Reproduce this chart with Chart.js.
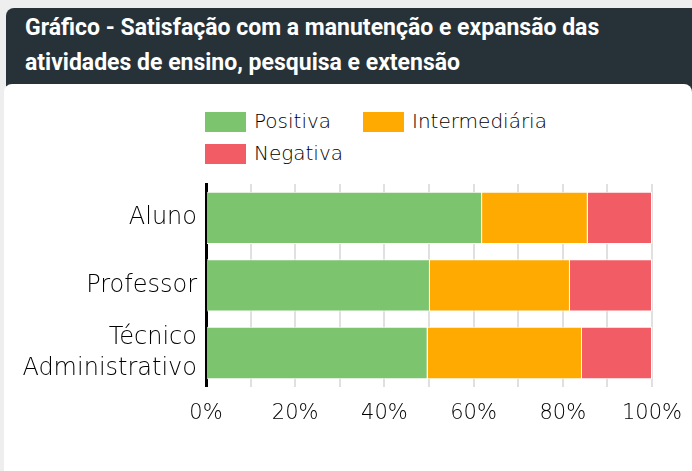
<!DOCTYPE html>
<html>
<head>
<meta charset="utf-8">
<script src="https://cdn.jsdelivr.net/npm/chart.js@4/dist/chart.umd.min.js"></script>
<style>
  html, body { margin:0; padding:0; width:692px; height:471px; overflow:hidden; background:#eeeeee; }
  #header { position:absolute; left:6px; top:8px; width:700px; height:90px; background:#263238; border-radius:8px; }
  #title { position:absolute; left:25px; top:10px; color:#fff; font-family:Roboto, sans-serif; font-weight:700; font-size:23px; line-height:35px; white-space:nowrap; }
  #card { position:absolute; left:4px; top:84px; width:688px; height:420px; background:#fff; border-radius:8px; }
  #legend { position:absolute; left:205px; top:112px; font-family:"DejaVu Sans", sans-serif; font-weight:300; font-size:20px; color:#000; }
  .li { position:absolute; white-space:nowrap; height:20px; }
  .li .sw { position:absolute; left:0; top:0; width:41px; height:20px; }
  .li .tx { position:absolute; left:49px; top:-3px; line-height:24px; }
  #c { position:absolute; left:0; top:0; }
</style>
</head>
<body>
<div id="header"></div>
<div id="title">Gráfico - Satisfação com a manutenção e expansão das<br>atividades de ensino, pesquisa e extensão</div>
<div id="card"></div>
<div id="legend"></div>
<canvas id="c" width="692" height="471"></canvas>
<script>
const categories = ['Aluno', 'Professor', ['Técnico', 'Administrativo']];
const seriesNames = ['Positiva', 'Intermediária', 'Negativa'];
const positiva = [61.9, 50.2, 49.7];
const intermediaria = [23.7, 31.4, 34.6];
const negativa = [14.4, 18.4, 15.7];
const seriesColors = ['#7cc46e', '#ffaa00', '#f25c64'];
const xTickValues = [0, 20, 40, 60, 80, 100];

const FONT = '"DejaVu Sans", sans-serif';

const chart = new Chart(document.getElementById('c'), {
  type: 'bar',
  data: {
    labels: categories,
    datasets: [
      { label: seriesNames[0], data: positiva, backgroundColor: seriesColors[0] },
      { label: seriesNames[1], data: intermediaria, backgroundColor: seriesColors[1] },
      { label: seriesNames[2], data: negativa, backgroundColor: seriesColors[2] }
    ].map(d => Object.assign(d, { borderColor: '#ffffff', borderWidth: 1, categoryPercentage: 0.86, barPercentage: 0.9 }))
  },
  options: {
    indexAxis: 'y',
    responsive: false,
    animation: false,
    layout: { padding: { top: 184, left: 0, right: 40, bottom: 31 } },
    plugins: { legend: { display: false }, tooltip: { enabled: false } },
    scales: {
      x: {
        stacked: true,
        min: 0, max: 100,
        grid: { color: '#e0e0e0', lineWidth: 2, drawTicks: false },
        border: { display: false },
        ticks: {
          stepSize: 10, autoSkip: false, maxRotation: 0, padding: 14,
          color: '#000', font: { family: FONT, size: 21, weight: '300' },
          callback: v => xTickValues.includes(v) ? v + '%' : ''
        },
        afterFit: s => { s.paddingLeft = 0; s.paddingRight = 0; }
      },
      y: {
        stacked: true,
        grid: { display: false, drawTicks: false },
        border: { display: true, color: '#000', width: 3 },
        ticks: { autoSkip: false, padding: 9, color: '#000', font: { family: FONT, size: 24, weight: '300', lineHeight: 1.3 } },
        afterFit: s => { s.width = 206; s.paddingTop = 0; s.paddingBottom = 0; }
      }
    }
  }
});

const leg = document.getElementById('legend');
const pos = [[0, 0], [158, 0], [0, 32]];
chart.data.datasets.forEach((d, i) => {
  const el = document.createElement('div');
  el.className = 'li';
  el.style.left = pos[i][0] + 'px';
  el.style.top = pos[i][1] + 'px';
  el.innerHTML = '<span class="sw" style="background:' + d.backgroundColor + '"></span><span class="tx">' + d.label + '</span>';
  leg.appendChild(el);
});
</script>
</body>
</html>
